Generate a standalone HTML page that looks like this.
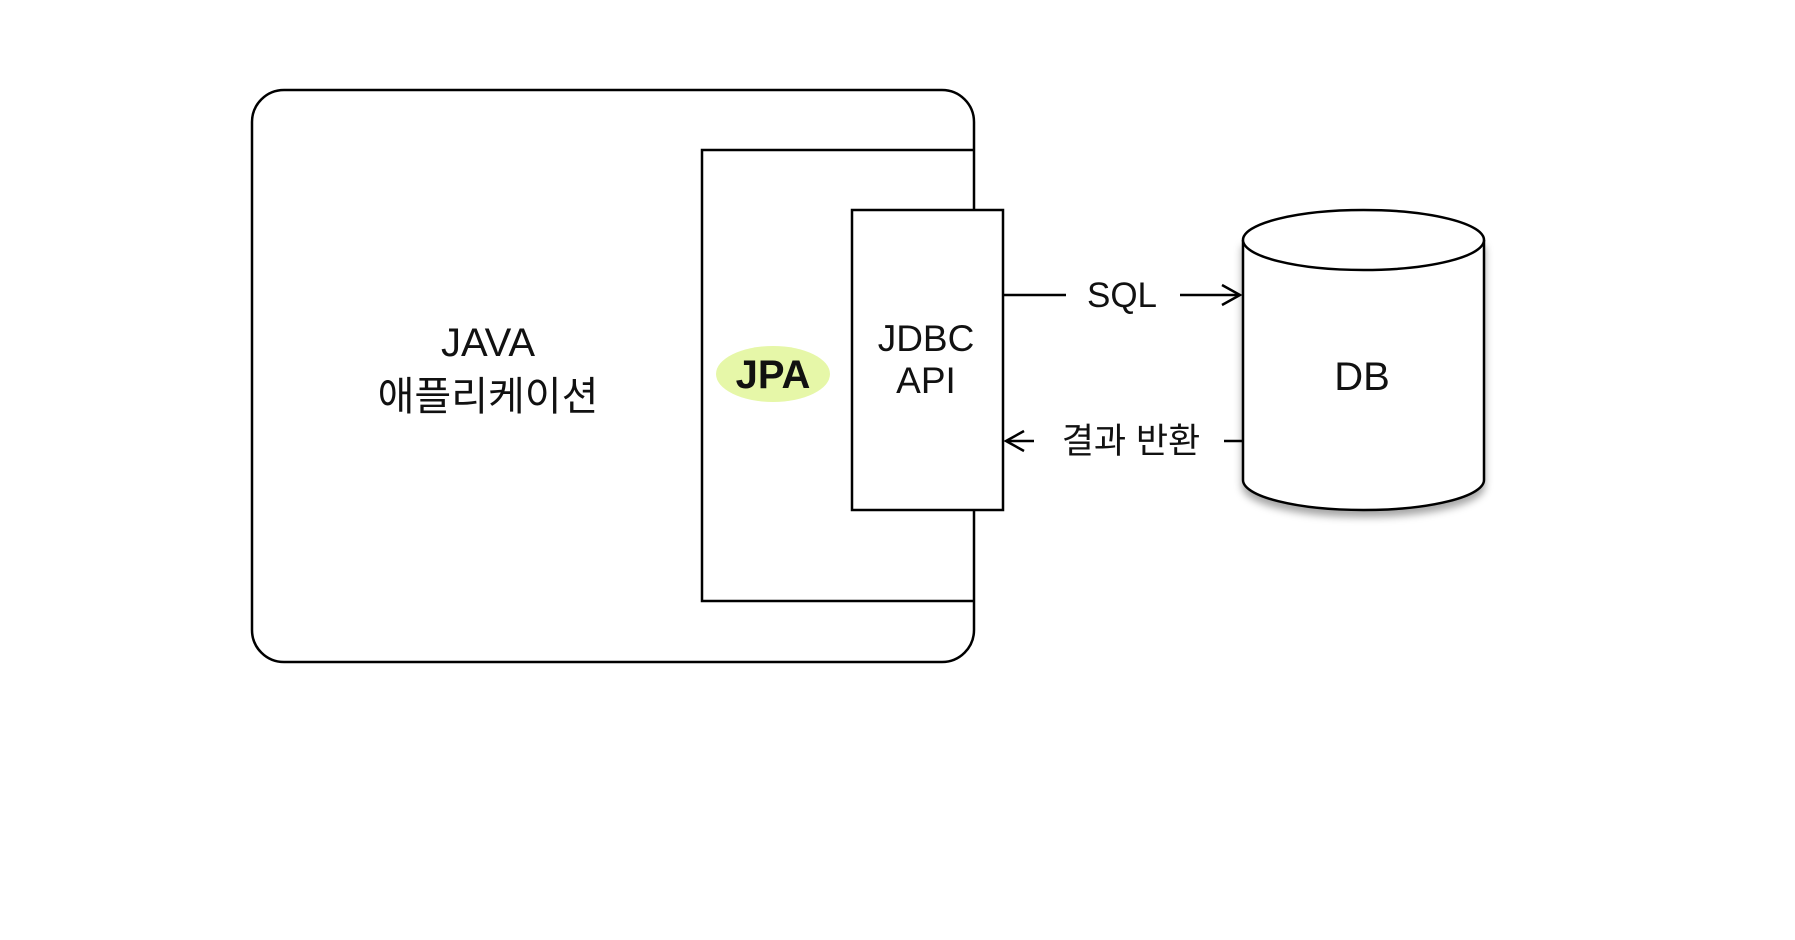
<!DOCTYPE html>
<html><head><meta charset="utf-8"><style>
body{margin:0;background:#fff;width:1795px;height:935px;overflow:hidden}
</style></head><body>
<svg width="1795" height="935" xmlns="http://www.w3.org/2000/svg" font-family="'Liberation Sans','Noto Sans CJK KR',sans-serif">
<defs><filter id="sh" x="-20%" y="-20%" width="140%" height="140%"><feDropShadow dx="0" dy="6" stdDeviation="4" flood-color="#000" flood-opacity="0.35"/></filter></defs>
<rect x="252" y="90" width="722" height="572" rx="32" fill="#fff" stroke="#000" stroke-width="2.5"/>
<path d="M974 150 H702 V601 H974" fill="none" stroke="#000" stroke-width="2.5"/>
<rect x="852" y="210" width="151" height="300" fill="#fff" stroke="#000" stroke-width="2.5"/>
<g filter="url(#sh)">
<path d="M1243 240 V480 A120.5 30 0 0 0 1484 480 V240" fill="#fff" stroke="#000" stroke-width="2.5"/>
</g>
<ellipse cx="1363.5" cy="240" rx="120.5" ry="30" fill="#fff" stroke="#000" stroke-width="2.5"/>
<ellipse cx="773" cy="374" rx="57" ry="28" fill="#e6f7a8"/>
<g font-size="40" text-anchor="middle" fill="#111">
<text x="488" y="356">JAVA</text>
<text x="488" y="410">애플리케이션</text>
<text x="773" y="388" font-weight="bold">JPA</text>
<text x="1362" y="390">DB</text>
</g>
<g font-size="37" text-anchor="middle" fill="#111">
<text x="926" y="351">JDBC</text>
<text x="926" y="393">API</text>
</g>
<g stroke="#000" stroke-width="2.5" fill="none">
<line x1="1003" y1="295" x2="1066" y2="295"/>
<line x1="1180" y1="295" x2="1238" y2="295"/>
<path d="M1222 285 L1240 295 L1222 305"/>
<line x1="1224" y1="441" x2="1242" y2="441"/>
<line x1="1006" y1="441" x2="1034" y2="441"/>
<path d="M1024 431 L1006 441 L1024 451"/>
</g>
<g font-size="35" text-anchor="middle" fill="#111">
<text x="1122" y="307">SQL</text>
<text x="1131" y="453">결과 반환</text>
</g>
</svg>
</body></html>
